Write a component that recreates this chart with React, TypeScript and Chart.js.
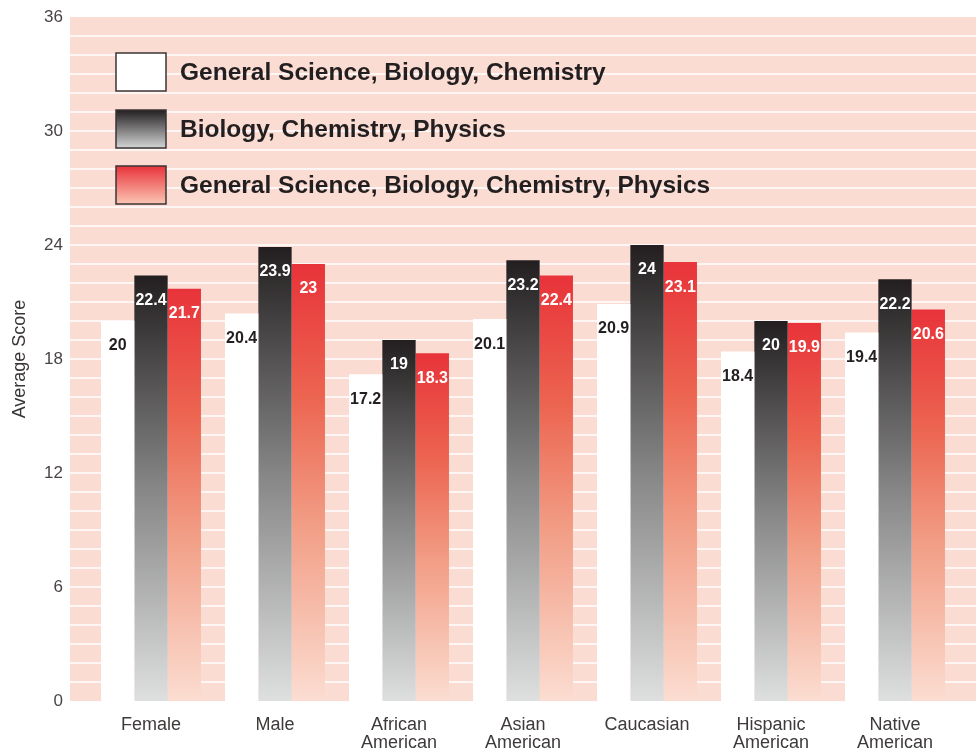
import React, { useEffect, useRef } from 'react';
import { Chart, registerables } from 'chart.js';

Chart.register(...registerables);

const categories: (string | string[])[] = [
  'Female',
  'Male',
  ['African', 'American'],
  ['Asian', 'American'],
  'Caucasian',
  ['Hispanic', 'American'],
  ['Native', 'American'],
];

const seriesNames = [
  'General Science, Biology, Chemistry',
  'Biology, Chemistry, Physics',
  'General Science, Biology, Chemistry, Physics',
];

const gsbc = [20, 20.4, 17.2, 20.1, 20.9, 18.4, 19.4];
const bcp = [22.4, 23.9, 19, 23.2, 24, 20, 22.2];
const gsbcp = [21.7, 23, 18.3, 22.4, 23.1, 19.9, 20.6];

const yMin = 0;
const yMax = 36;
const yStep = 6;

const FONT = '"Liberation Sans", Arial, Helvetica, sans-serif';
const BG = '#fadcd2';
const INK = '#231f20';

type Stop = [number, string];
const seriesGrad: (Stop[] | null)[] = [
  null,
  [[0, '#231f20'], [0.5, '#868686'], [1, '#dedfdf']],
  [[0, '#e8333a'], [0.3, '#ec6450'], [0.6, '#f29e86'], [1, '#fbddd1']],
];
const legendGrad: (Stop[] | null)[] = [
  null,
  [[0, '#231f20'], [1, '#d4d5d5']],
  [[0, '#e8333a'], [1, '#fbc6b4']],
];
const seriesSolid = ['#ffffff', '#555555', '#ee6a5c'];
const labelColors = [INK, '#ffffff', '#ffffff'];

function barFill(idx: number) {
  return (c: any) => {
    const g = seriesGrad[idx];
    if (!g) return seriesSolid[idx];
    const chart = c.chart;
    if (!chart.chartArea || c.type !== 'data') return seriesSolid[idx];
    const ys = chart.scales.y;
    const top = ys.getPixelForValue(c.raw);
    const bottom = ys.getPixelForValue(0);
    const grad = chart.ctx.createLinearGradient(0, top, 0, bottom);
    g.forEach(([o, col]) => grad.addColorStop(o, col));
    return grad;
  };
}

const stripedBg = {
  id: 'stripedBg',
  beforeDraw(chart: any) {
    const { ctx, chartArea } = chart;
    const ys = chart.scales.y;
    const x0 = chartArea.left - 19;
    const x1 = chart.width;
    const top = ys.getPixelForValue(yMax);
    const bottom = ys.getPixelForValue(yMin);
    ctx.save();
    ctx.fillStyle = BG;
    ctx.fillRect(x0, top, x1 - x0, bottom - top);
    ctx.strokeStyle = '#ffffff';
    ctx.lineWidth = 1.6;
    for (let v = yMin + 1; v < yMax; v++) {
      const py = ys.getPixelForValue(v);
      ctx.beginPath();
      ctx.moveTo(x0, py);
      ctx.lineTo(x1, py);
      ctx.stroke();
    }
    ctx.restore();
  },
};

const valueLabels = {
  id: 'valueLabels',
  afterDatasetsDraw(chart: any) {
    const { ctx } = chart;
    ctx.save();
    ctx.font = `bold 16px ${FONT}`;
    ctx.textAlign = 'center';
    ctx.textBaseline = 'middle';
    chart.data.datasets.forEach((ds: any, di: number) => {
      const meta = chart.getDatasetMeta(di);
      meta.data.forEach((bar: any, i: number) => {
        ctx.fillStyle = labelColors[di];
        ctx.fillText(String(ds.data[i]), bar.x, bar.y + 25);
      });
    });
    ctx.restore();
  },
};

const boxLegend = {
  id: 'boxLegend',
  afterDraw(chart: any) {
    const { ctx } = chart;
    const bx = 116;
    const bw = 50;
    const bh = 38;
    const tops = [53, 110, 166];
    ctx.save();
    chart.data.datasets.forEach((ds: any, di: number) => {
      const y0 = tops[di];
      const g = legendGrad[di];
      if (g) {
        const grad = ctx.createLinearGradient(0, y0, 0, y0 + bh);
        g.forEach(([o, col]) => grad.addColorStop(o, col));
        ctx.fillStyle = grad;
      } else {
        ctx.fillStyle = '#ffffff';
      }
      ctx.fillRect(bx, y0, bw, bh);
      ctx.strokeStyle = '#3a3434';
      ctx.lineWidth = 1.5;
      ctx.strokeRect(bx, y0, bw, bh);
      ctx.fillStyle = INK;
      ctx.font = `bold 24.5px ${FONT}`;
      ctx.textAlign = 'left';
      ctx.textBaseline = 'middle';
      ctx.fillText(ds.label, 180, y0 + bh / 2 + 1);
    });
    ctx.restore();
  },
};

export default function App() {
  const ref = useRef<HTMLCanvasElement | null>(null);

  useEffect(() => {
    document.body.style.margin = '0';
    const canvas = ref.current;
    if (!canvas) return;
    const values = [gsbc, bcp, gsbcp];
    const chart = new Chart(canvas, {
      type: 'bar',
      data: {
        labels: categories as any,
        datasets: values.map((vals, i) => ({
          label: seriesNames[i],
          data: vals,
          backgroundColor: barFill(i) as any,
          borderWidth: 0,
          categoryPercentage: 0.806,
          barPercentage: 1,
        })),
      },
      options: {
        animation: false,
        responsive: false,
        devicePixelRatio: 1,
        layout: { padding: { top: 17, right: 19, left: 0, bottom: 0 } },
        plugins: {
          legend: { display: false },
          tooltip: { enabled: false },
          title: { display: false },
        },
        scales: {
          x: {
            grid: { display: false, drawTicks: false },
            border: { display: false },
            ticks: {
              color: '#3e3a3a',
              font: { family: FONT, size: 18, lineHeight: 1.0 },
              padding: 15,
              maxRotation: 0,
              autoSkip: false,
            },
            afterFit(scale: any) {
              scale.height = 52;
              scale.paddingLeft = 0;
              scale.paddingRight = 0;
            },
          },
          y: {
            min: yMin,
            max: yMax,
            grid: { display: false, drawTicks: false },
            border: { display: false },
            ticks: {
              stepSize: yStep,
              color: '#4a4545',
              font: { family: FONT, size: 17 },
              padding: 26,
            },
            title: {
              display: true,
              text: 'Average Score',
              color: '#3a3535',
              font: { family: FONT, size: 18 },
              padding: { top: 9, bottom: 0 },
            },
            afterFit(scale: any) {
              scale.width = 89;
              scale.paddingTop = 0;
              scale.paddingBottom = 0;
            },
          },
        },
      },
      plugins: [stripedBg, valueLabels, boxLegend],
    });
    return () => chart.destroy();
  }, []);

  return (
    <div style={{ width: 976, height: 753 }}>
      <canvas ref={ref} width={976} height={753} style={{ display: 'block' }} />
    </div>
  );
}
